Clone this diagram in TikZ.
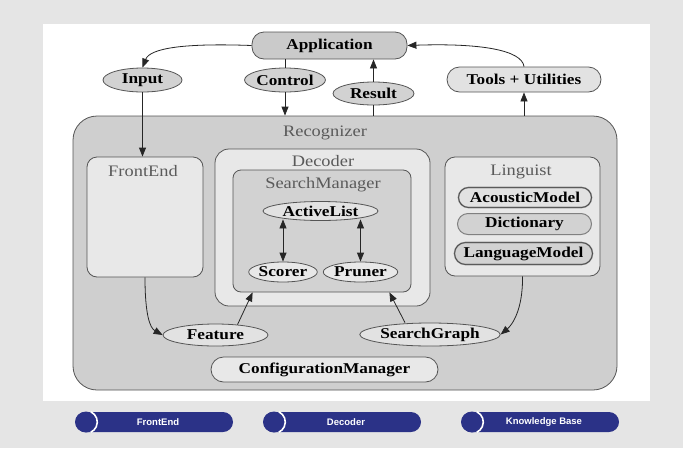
\documentclass[tikz,border=0pt]{standalone}
\usepackage{fontspec}
\usepackage{graphicx}
\setmainfont{Liberation Serif}
\newfontfamily\legfont{Liberation Sans}
\usetikzlibrary{arrows.meta,shapes.geometric,shapes.misc,calc}
\definecolor{pagebg}{HTML}{E5E5E5}
\definecolor{recfill}{HTML}{CFCFCF}
\definecolor{lightfill}{HTML}{E8E8E8}
\definecolor{midfill}{HTML}{D2D2D2}
\definecolor{appfill}{HTML}{CACACA}
\definecolor{ovalfill}{HTML}{E2E2E2}
\definecolor{edgecol}{HTML}{555555}
\definecolor{labcol}{HTML}{5A5A5A}
\definecolor{navy}{HTML}{2B3287}
\newcommand{\hs}[1]{\scalebox{1.15}[1]{#1}}
\begin{document}
\begin{tikzpicture}[x=1pt,y=-1pt,
  container/.style={draw=edgecol,line width=0.8pt,inner sep=0pt},
  oval/.style={ellipse,draw=edgecol,line width=0.8pt,inner sep=0pt,fill=ovalfill,font=\fontsize{15}{17}\selectfont\bfseries},
  pill/.style={rounded rectangle,draw=edgecol,line width=0.8pt,inner sep=0pt,fill=ovalfill,font=\fontsize{15}{17}\selectfont\bfseries},
  lingpill/.style={rounded rectangle,draw=black!45,line width=1.6pt,inner sep=0pt,fill=midfill,font=\fontsize{15}{17}\selectfont\bfseries,
     postaction={draw=black!75,line width=0.5pt}},
  boxlabel/.style={font=\fontsize{16}{18}\selectfont,text=labcol,inner sep=0pt},
  conn/.style={draw=black!85,line width=0.8pt,-{Triangle[length=9pt,width=7pt]}},
  plain/.style={draw=black!85,line width=0.8pt},
  both/.style={draw=black!85,line width=0.8pt,{Triangle[length=9pt,width=7pt]}-{Triangle[length=9pt,width=7pt]}},
  legpill/.style={rounded rectangle,fill=navy,inner sep=0pt,minimum width=158pt,minimum height=20pt,text=white,font=\legfont\fontsize{9.5}{11}\selectfont\bfseries},
  legdot/.style={circle,fill=navy,inner sep=0pt,minimum size=21pt}
]
\useasboundingbox (0,0) rectangle (683,448);
\fill[pagebg] (0,0) rectangle (683,448);
\fill[white] (43,24) rectangle (650,401);

% containers
\node[container,fill=recfill,rounded corners=24pt,minimum width=544pt,minimum height=274pt] (rec) at (345,253) {};
\node[boxlabel] (reclab) at (325,133) {\hs{Recognizer}};
\node[container,fill=lightfill,rounded corners=10pt,minimum width=116pt,minimum height=120pt] (fe) at (145,217) {};
\node[boxlabel] (felab) at (143,171) {\hs{FrontEnd}};
\node[container,fill=lightfill,rounded corners=14pt,minimum width=215pt,minimum height=157pt] (dec) at (322.5,227.5) {};
\node[boxlabel] (declab) at (323,161) {\hs{Decoder}};
\node[container,fill=midfill,rounded corners=8pt,minimum width=178pt,minimum height=122pt] (sm) at (322,231) {};
\node[boxlabel] (smlab) at (323,185) {\hs{SearchManager}};
\node[container,fill=lightfill,rounded corners=10pt,minimum width=155pt,minimum height=119pt] (ling) at (522.5,216.5) {};
\node[boxlabel] (linglab) at (521,172) {\hs{Linguist}};

% top row
\node[container,fill=appfill,rounded corners=12pt,minimum width=155pt,minimum height=27pt,font=\fontsize{15}{17}\selectfont\bfseries] (app) at (329.5,45.5) {\hs{Application}};
\node[oval,fill=midfill,minimum width=79pt,minimum height=24pt] (input) at (142.5,80) {\hs{Input}};
\node[oval,fill=midfill,minimum width=76pt,minimum height=24pt] (control) at (285,80) {\hs{Control}};
\node[oval,fill=midfill,minimum width=81pt,minimum height=23pt] (result) at (373.5,93.5) {\hs{Result}};
\node[pill,minimum width=154pt,minimum height=25pt] (tools) at (524,79.5) {\hs{Tools + Utilities}};

% decoder internals
\node[oval,minimum width=115pt,minimum height=19pt] (al) at (320.5,211) {\hs{ActiveList}};
\node[oval,fill=lightfill,minimum width=68pt,minimum height=20pt] (scorer) at (283,272) {\hs{Scorer}};
\node[oval,fill=lightfill,minimum width=69pt,minimum height=20pt] (pruner) at (360.5,272) {\hs{Pruner}};

% linguist internals
\node[lingpill,fill=ovalfill,minimum width=133pt,minimum height=20pt] (am) at (525,197.5) {\hs{AcousticModel}};
\node[pill,draw=black!50,line width=1pt,fill=midfill,minimum width=134pt,minimum height=21pt] (dict) at (524.5,224) {\hs{Dictionary}};
\node[lingpill,minimum width=138pt,minimum height=22pt] (lm) at (523.5,253.5) {\hs{LanguageModel}};

% bottom row
\node[oval,minimum width=105pt,minimum height=22pt] (feature) at (215.5,335) {\hs{Feature}};
\node[oval,minimum width=130pt,minimum height=23pt] (sg) at (430,334.5) {\hs{SearchGraph}};
\node[pill,fill=lightfill,minimum width=227pt,minimum height=25pt] (cm) at (324.5,369.5) {\hs{ConfigurationManager}};

% connectors
\draw[conn] (app.west) .. controls (185,43) and (150,48) .. (input.north);
\draw[conn] (tools.north) .. controls (522,50) and (480,43) .. (app.east);
\draw[plain] (control.north |- app.south) -- (control.north);
\draw[conn] (control.south) -- (control.south |- rec.north);
\draw[plain] (result.south |- rec.north) -- (result.south);
\draw[conn] (result.north) -- (result.north |- app.south);
\draw[conn] (tools.south |- rec.north) -- (tools.south);
\draw[conn] (input.south) -- (input.south |- fe.north);
\draw[conn] (fe.south) .. controls (145,315) and (150,328) .. (feature.west);
\draw[conn] ($(feature.north)+(22,1)$) -- ($(sm.south west)+(20,0)$);
\draw[conn] ($(sg.north)+(-25,0)$) -- ($(sm.south east)+(-22,0)$);
\draw[conn] (ling.south) .. controls (523,310) and (512,325) .. (sg.east);
\draw[both] ($(scorer.north |- al.south)+(0,-1.5)$) -- (scorer.north);
\draw[both] ($(pruner.north |- al.south)+(0,-1.5)$) -- (pruner.north);

% legend
\node[legpill] (leg1) at (154,422) {\hspace{8pt}FrontEnd};
\node[legdot] (dot1) at (86,422) {};
\draw[white,line width=1.6pt] ($(dot1.center)+(-65:11.3)$) arc[start angle=-65,end angle=65,radius=11.3];
\node[legpill] (leg2) at (342,422) {\hspace{8pt}Decoder};
\node[legdot] (dot2) at (274,422) {};
\draw[white,line width=1.6pt] ($(dot2.center)+(-65:11.3)$) arc[start angle=-65,end angle=65,radius=11.3];
\node[legpill] (leg3) at (540,422) {\hspace{8pt}Knowledge Base};
\node[legdot] (dot3) at (472,422) {};
\draw[white,line width=1.6pt] ($(dot3.center)+(-65:11.3)$) arc[start angle=-65,end angle=65,radius=11.3];
\end{tikzpicture}
\end{document}
